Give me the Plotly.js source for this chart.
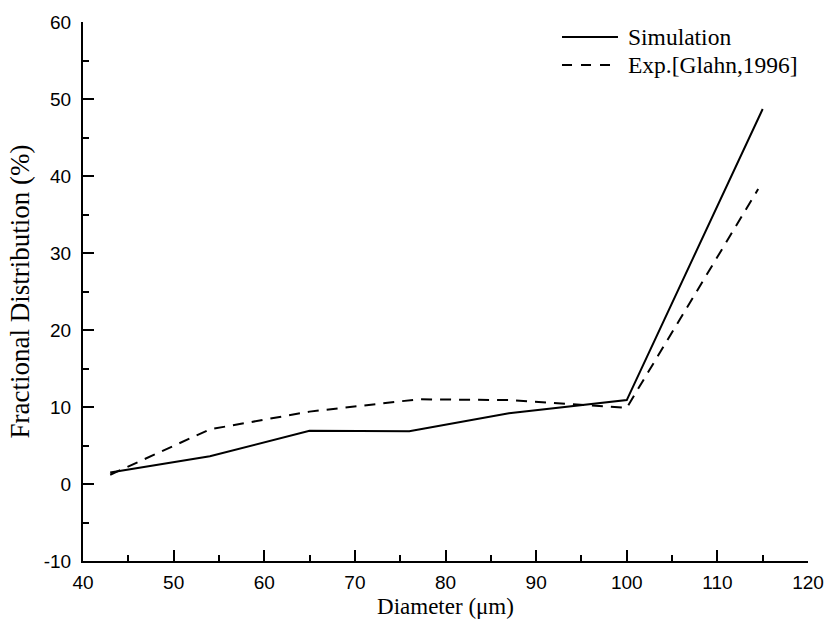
<!DOCTYPE html>
<html>
<head>
<meta charset="utf-8">
<script src="https://cdn.plot.ly/plotly-3.0.1.min.js"></script>
<style>body{margin:0;padding:0;background:#fff;}#chart{width:827px;height:631px;}</style>
</head>
<body>
<div id="chart"></div>
<script>
const simDiameter = [43, 54, 65, 76, 87, 100, 115];
const simFraction = [1.5, 3.6, 6.9, 6.85, 9.2, 10.9, 48.7];
const expDiameter = [43, 54, 65, 77, 87, 100, 114.5];
const expFraction = [1.2, 7.1, 9.4, 11.0, 10.9, 9.9, 38.3];
const seriesNames = ['Simulation', 'Exp.[Glahn,1996]'];
const yTickVals = [-10, 0, 10, 20, 30, 40, 50, 60];
const yTickText = ['-10', '0', '10', '20', '30', '40', '50', '60'];

const serif = 'Liberation Serif, Times New Roman, serif';
const sans = 'Liberation Sans, Arial, sans-serif';

const traces = [
  {x: simDiameter, y: simFraction, type: 'scatter', mode: 'lines', name: seriesNames[0],
   line: {color: '#000', width: 2}},
  {x: expDiameter, y: expFraction, type: 'scatter', mode: 'lines', name: seriesNames[1],
   line: {color: '#000', width: 2, dash: '11px,8px'}}
];

const axisCommon = {
  showgrid: false, zeroline: false, showline: true, linecolor: '#000', linewidth: 2,
  ticks: 'inside', ticklen: 11, tickwidth: 2, tickcolor: '#000',
  tickfont: {family: sans, size: 19, color: '#000'},
  mirror: false
};

// manual legend (longer sample lines than Plotly's built-in legend)
const legendRows = [0.9722, 0.9202];
const shapes = [
  {type: 'line', xref: 'paper', yref: 'paper', x0: 0.6607, x1: 0.7379, y0: legendRows[0], y1: legendRows[0],
   line: {color: '#000', width: 2}},
  {type: 'line', xref: 'paper', yref: 'paper', x0: 0.6607, x1: 0.7379, y0: legendRows[1], y1: legendRows[1],
   line: {color: '#000', width: 2, dash: '10px,9px'}}
];
const annotations = seriesNames.map((n, i) => ({
  xref: 'paper', yref: 'paper', x: 0.749, y: legendRows[i], xanchor: 'left', yanchor: 'middle',
  text: n, showarrow: false, font: {family: serif, size: 23.5, color: '#000'}
}));

const layout = {
  width: 827, height: 631,
  margin: {l: 83, r: 19, t: 22, b: 70},
  paper_bgcolor: '#fff', plot_bgcolor: '#fff',
  showlegend: false,
  shapes: shapes,
  annotations: annotations,
  xaxis: Object.assign({}, axisCommon, {
    range: [40, 120], dtick: 10, tick0: 40,
    ticklabelstandoff: 3,
    minor: {dtick: 5, ticks: 'inside', ticklen: 6, tickwidth: 2, tickcolor: '#000'},
    title: {text: 'Diameter (μm)', standoff: 6,
      font: {family: serif, size: 23, color: '#000'}}
  }),
  yaxis: Object.assign({}, axisCommon, {
    range: [-10, 60], tickmode: 'array', tickvals: yTickVals, ticktext: yTickText,
    ticklabelstandoff: 6,
    minor: {tickmode: 'linear', dtick: 5, tick0: 0, ticks: 'inside', ticklen: 6, tickwidth: 2, tickcolor: '#000'},
    title: {text: 'Fractional Distribution (%)', standoff: 6,
      font: {family: serif, size: 27, color: '#000'}}
  })
};

Plotly.newPlot('chart', traces, layout, {displayModeBar: false, staticPlot: true});
</script>
</body>
</html>
